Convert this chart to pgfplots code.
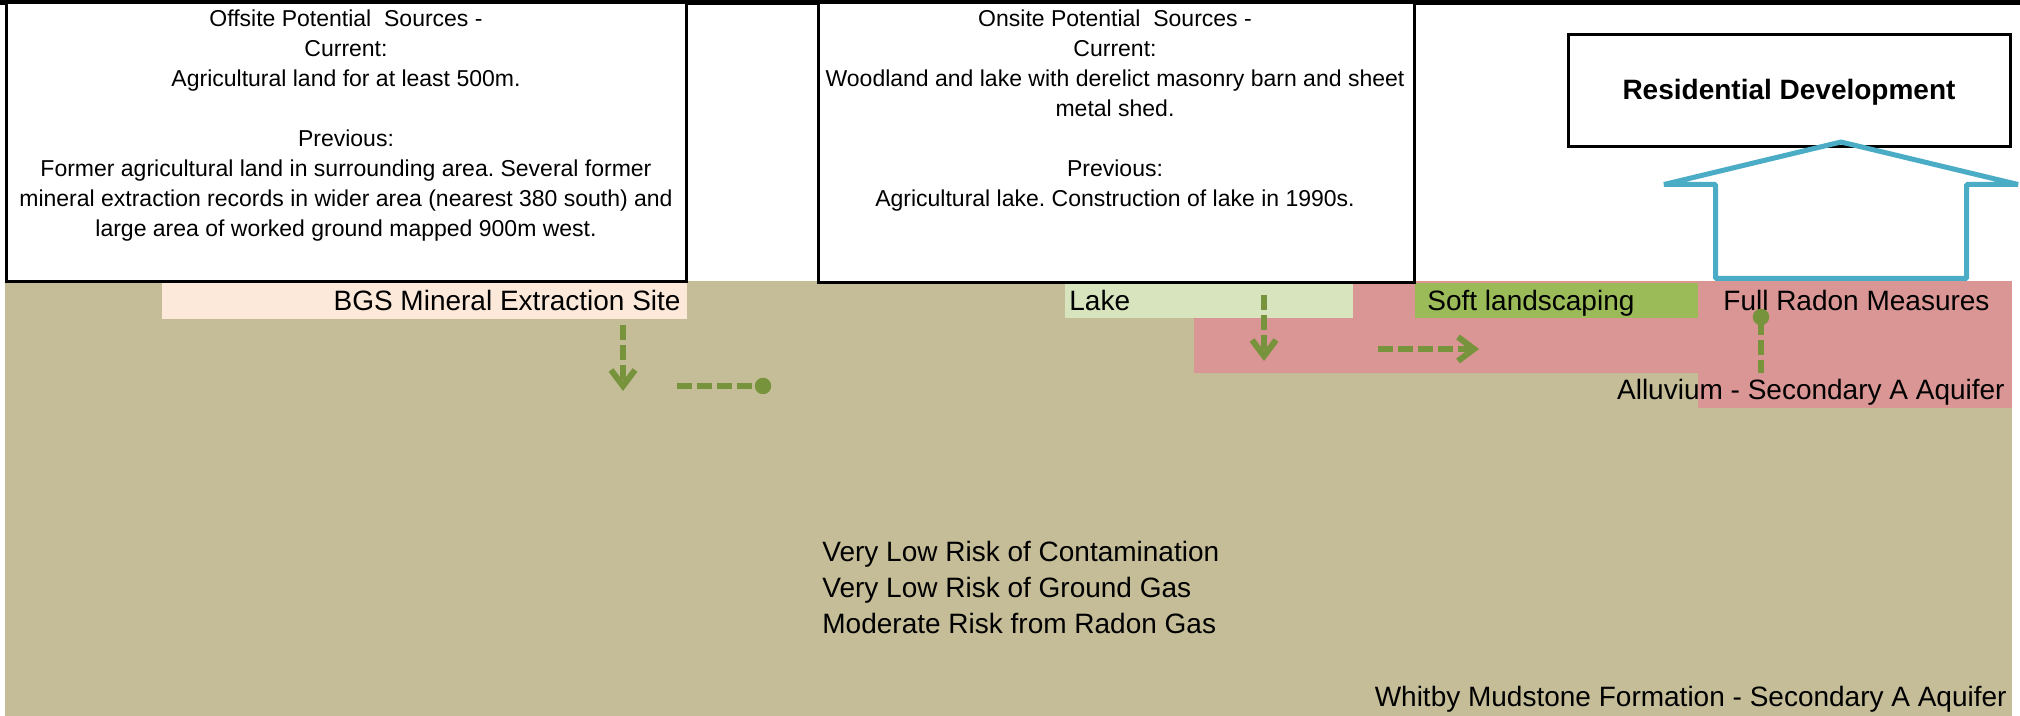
\documentclass[border=0pt]{standalone}
\usepackage{pgfplots}
\pgfplotsset{compat=1.18}
\usetikzlibrary{arrows.meta}
\usepackage{fontspec}
\setmainfont{Liberation Sans}
\frenchspacing
\definecolor{tanc}{HTML}{C4BD97}
\definecolor{peach}{HTML}{FDE9D9}
\definecolor{lakec}{HTML}{D7E4BD}
\definecolor{softc}{HTML}{9BBB59}
\definecolor{pinkc}{HTML}{D99694}
\definecolor{bluec}{HTML}{4BACC6}
\definecolor{grnc}{HTML}{77933C}
\begin{document}
\begin{tikzpicture}
\begin{axis}[at={(0,0)},anchor=south west,
  width=1010pt,height=358pt,scale only axis,
  xmin=0,xmax=2020,ymin=0,ymax=716,y dir=reverse,
  hide axis,no marks,
  every axis plot/.append style={line join=miter}]
% background
\addplot[fill=white,draw=none] coordinates {(0,0) (2020,0) (2020,716) (0,716)} -- cycle;
% top bar
\addplot[fill=black,draw=none] coordinates {(0,0) (2020,0) (2020,5.5) (0,5.5)} -- cycle;
% ground
\addplot[fill=tanc,draw=none] coordinates {(5,281) (2012,281) (2012,716) (5,716)} -- cycle;
% pink radon zone
\addplot[fill=pinkc,draw=none] coordinates {(1194,281) (2012,281) (2012,373) (1194,373)} -- cycle;
\addplot[fill=pinkc,draw=none] coordinates {(1698,372) (2012,372) (2012,408) (1698,408)} -- cycle;
% strips
\addplot[fill=peach,draw=none] coordinates {(162,283) (687,283) (687,319) (162,319)} -- cycle;
\addplot[fill=lakec,draw=none] coordinates {(1065,283) (1353,283) (1353,318) (1065,318)} -- cycle;
\addplot[fill=softc,draw=none] coordinates {(1415,283) (1698,283) (1698,318) (1415,318)} -- cycle;
% text boxes
\addplot[fill=white,draw=black,line width=1.5pt] coordinates {(6.5,3) (686,3) (686,281.5) (6.5,281.5)} -- cycle;
\addplot[fill=white,draw=black,line width=1.5pt] coordinates {(818,3) (1414,3) (1414,282.5) (818,282.5)} -- cycle;
\addplot[fill=white,draw=black,line width=1.5pt] coordinates {(1568.5,34.5) (2010.5,34.5) (2010.5,146.5) (1568.5,146.5)} -- cycle;
% house arrow
\addplot[draw=bluec,line width=2.5pt,line join=bevel] coordinates {(1715.5,278.5) (1715.5,184.5) (1664,184.5) (1841,142) (2018,184.5) (1966.5,184.5) (1966.5,278.5)} -- cycle;
% pathways
\addplot[grnc,line width=3pt,dash pattern=on 7.5pt off 2.5pt,-{Straight Barb[length=8pt,width=12pt]}] coordinates {(623,325) (623,391)};
\addplot[grnc,line width=3pt,dash pattern=on 7.5pt off 2.5pt] coordinates {(677,386) (760,386)};
\addplot[grnc,only marks,mark=*,mark size=3.9pt] coordinates {(763,386)};
\addplot[grnc,line width=3pt,dash pattern=on 7.5pt off 2.5pt,-{Straight Barb[length=8pt,width=12pt]}] coordinates {(1264,295) (1264,361)};
\addplot[grnc,line width=3pt,dash pattern=on 7.5pt off 2.5pt,-{Straight Barb[length=8pt,width=12pt]}] coordinates {(1378,349) (1479,349)};
\addplot[grnc,line width=3pt,dash pattern=on 7.5pt off 2.5pt] coordinates {(1761,320) (1761,373)};
\addplot[grnc,only marks,mark=*,mark size=3.9pt] coordinates {(1761,317)};
% box texts
\begin{scope}[every node/.style={inner sep=0pt,anchor=base,font=\fontsize{11.5}{15}\selectfont}]
\node at (axis cs:346,27) {Offsite Potential\ \ Sources -};
\node at (axis cs:346,57) {Current:};
\node at (axis cs:346,87) {Agricultural land for at least 500m.};
\node at (axis cs:346,147) {Previous:};
\node at (axis cs:346,177) {Former agricultural land in surrounding area. Several former};
\node at (axis cs:346,207) {mineral extraction records in wider area (nearest 380 south) and};
\node at (axis cs:346,237) {large area of worked ground mapped 900m west.};
\node at (axis cs:1115,27) {Onsite Potential\ \ Sources -};
\node at (axis cs:1115,57) {Current:};
\node at (axis cs:1115,87) {Woodland and lake with derelict masonry barn and sheet};
\node at (axis cs:1115,117) {metal shed.};
\node at (axis cs:1115,177) {Previous:};
\node at (axis cs:1115,207) {Agricultural lake. Construction of lake in 1990s.};
\end{scope}
\begin{scope}[every node/.style={inner sep=0pt,font=\fontsize{14}{17.5}\selectfont}]
\node[anchor=base] at (axis cs:1789,100) {\bfseries Residential Development};
\node[anchor=base east] at (axis cs:681,311) {BGS Mineral Extraction Site};
\node[anchor=base west] at (axis cs:1069,311) {Lake};
\node[anchor=base west] at (axis cs:1427,311) {Soft landscaping};
\node[anchor=base west] at (axis cs:1723,311) {Full Radon Measures};
\node[anchor=base east] at (axis cs:2005,400) {Alluvium - Secondary A Aquifer};
\node[anchor=base west] at (axis cs:822,562) {Very Low Risk of Contamination};
\node[anchor=base west] at (axis cs:822,597) {Very Low Risk of Ground Gas};
\node[anchor=base west] at (axis cs:822,633) {Moderate Risk from Radon Gas};
\node[anchor=base east] at (axis cs:2007,706) {Whitby Mudstone Formation - Secondary A Aquifer};
\end{scope}
\end{axis}
\end{tikzpicture}
\end{document}
